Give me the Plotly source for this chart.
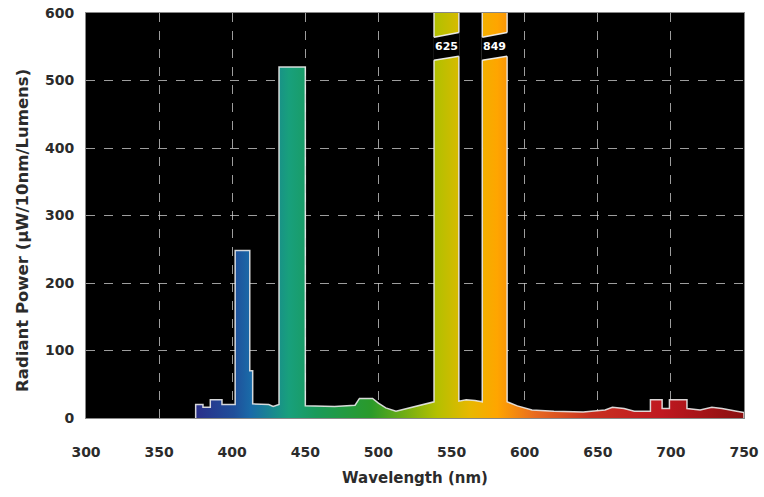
import plotly.graph_objects as go

# Spectral outline: wavelength (nm) and radiant power (µW/10nm/Lumens)
wavelength = [375, 375, 380, 380, 385, 385, 393, 393, 402, 402, 412, 412, 414, 414,
              425, 428, 432, 432, 450, 450, 470, 484, 487, 496, 500, 505, 512, 520,
              530, 538, 538, 555, 555, 560, 566, 571, 571, 588, 588, 595, 605, 620,
              640, 655, 660, 668, 675, 686, 686, 694, 694, 699, 699, 711, 711, 720,
              728, 735, 745, 750, 750]
power = [0, 20, 20, 16, 16, 27, 27, 20, 20, 248, 248, 70, 70, 21,
         20, 17, 20, 520, 520, 18, 17, 19, 29, 29, 22, 15, 10, 14,
         20, 24, 650, 650, 25, 27, 26, 24, 650, 650, 24, 18, 12, 10,
         9, 12, 16, 14, 10, 10, 27, 27, 14, 14, 27, 27, 14, 12,
         16, 14, 10, 8, 0]

# Off-scale peaks (broken bars) and their actual values
peak_left = [538, 571]
peak_right = [555, 588]
peak_labels = ["625", "849"]

x_ticks = [300, 350, 400, 450, 500, 550, 600, 650, 700, 750]
y_ticks = [0, 100, 200, 300, 400, 500, 600]

spectrum_colors = [
    [0.00, "#2a2f8a"],
    [0.07, "#1f4f9a"],
    [0.10, "#1a6aa8"],
    [0.17, "#18a07c"],
    [0.22, "#1a9a5a"],
    [0.32, "#2a9a2a"],
    [0.44, "#b4c000"],
    [0.50, "#e8b800"],
    [0.55, "#ffa500"],
    [0.62, "#e86a20"],
    [0.72, "#c83020"],
    [0.85, "#c01820"],
    [1.00, "#8a1010"],
]

FONT = "DejaVu Sans, Verdana, sans-serif"

fig = go.Figure()
fig.add_trace(go.Scatter(
    x=wavelength, y=power, mode="lines", fill="tozeroy",
    line=dict(color="rgba(235,235,235,0.9)", width=1.5),
    fillgradient=dict(type="horizontal", colorscale=spectrum_colors,
                      start=375, stop=750),
    hoverinfo="skip", showlegend=False,
))

# break marks on off-scale bars
gap_low_l, gap_low_r, gap_high_l, gap_high_r = 530, 536, 564, 571
edge = dict(color="rgba(240,240,240,0.95)", width=1.5)
for xl, xr, lab in zip(peak_left, peak_right, peak_labels):
    path = (f"M {xl - 0.6},{gap_low_l} L {xr + 0.6},{gap_low_r} L {xr + 0.6},{gap_high_r} "
            f"L {xl - 0.6},{gap_high_l} Z")
    fig.add_shape(type="path", path=path, xref="x", yref="y",
                  fillcolor="black", line=dict(width=0))
    fig.add_shape(type="line", x0=xl, y0=gap_low_l, x1=xr, y1=gap_low_r,
                  xref="x", yref="y", line=edge)
    fig.add_shape(type="line", x0=xl, y0=gap_high_l, x1=xr, y1=gap_high_r,
                  xref="x", yref="y", line=edge)
    fig.add_annotation(x=(xl + xr) / 2, y=(gap_low_l + gap_high_r) / 2,
                       text=lab, showarrow=False,
                       font=dict(color="white", size=11, family=FONT, weight="bold"),
                       xref="x", yref="y")

# y-axis title placed as a rotated annotation
fig.add_annotation(text="Radiant Power (µW/10nm/Lumens)", textangle=-90,
                   xref="paper", yref="paper", x=-0.0975, y=0.464,
                   xanchor="center", yanchor="middle", showarrow=False,
                   font=dict(size=16.5, weight="bold", family=FONT, color="#2b2b2b"))

fig.update_layout(
    width=764, height=497,
    margin=dict(l=86, r=20, t=13, b=79),
    paper_bgcolor="white", plot_bgcolor="black",
    font=dict(family=FONT, size=14, color="#2b2b2b", weight="bold"),
    xaxis=dict(range=[300, 750], tickvals=x_ticks, ticktext=[str(v) for v in x_ticks],
               showgrid=True, gridcolor="rgba(210,210,210,0.75)", griddash="dash",
               gridwidth=1, zeroline=False, showline=True, linecolor="#888",
               mirror=True, ticks="", ticklabelstandoff=21, automargin=False,
               ticklabeloverflow="allow",
               tickfont=dict(size=14, weight="bold"),
               title=dict(text="Wavelength (nm)",
                          font=dict(size=15, weight="bold"), standoff=13)),
    yaxis=dict(range=[0, 600], tickvals=y_ticks,
               showgrid=True, gridcolor="rgba(210,210,210,0.75)", griddash="dash",
               gridwidth=1, zeroline=False, showline=True, linecolor="#888",
               mirror=True, ticks="", ticklabelstandoff=8, automargin=False,
               ticklabeloverflow="allow",
               tickfont=dict(size=14, weight="bold")),
)

fig.write_html("out.html", config={"displayModeBar": False},
               post_script="document.body.style.margin='0px';")
